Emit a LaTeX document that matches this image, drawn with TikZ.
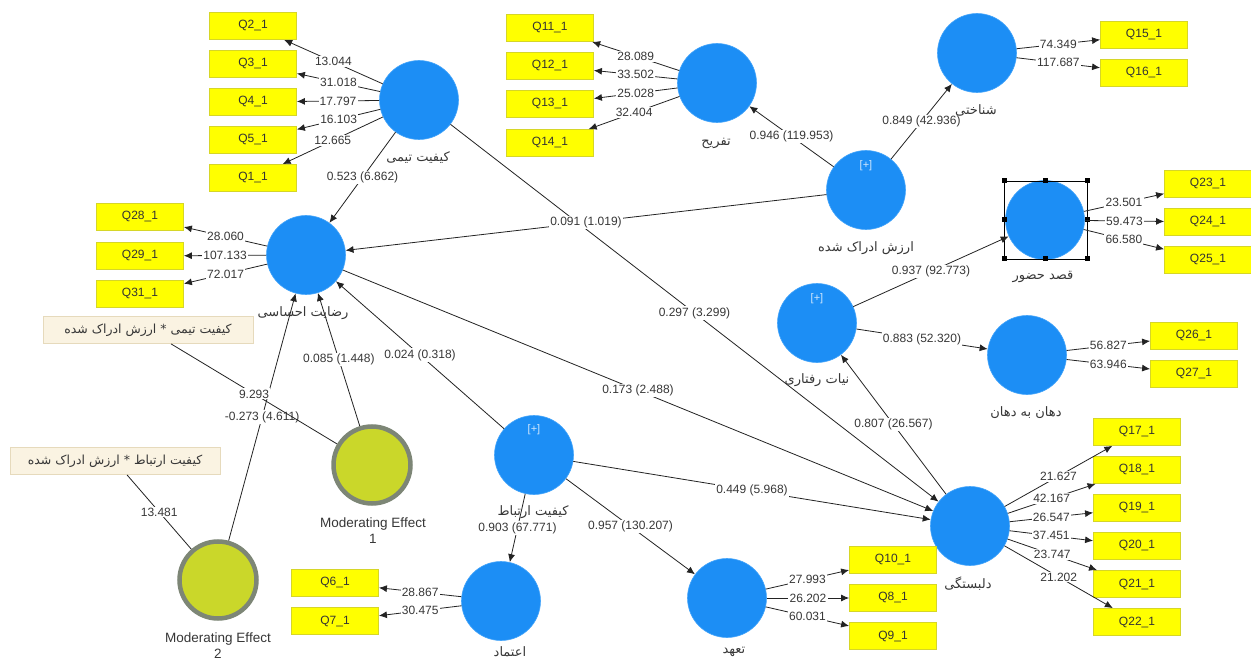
\documentclass[tikz,border=0pt]{standalone}
\usepackage{fontspec}
\setmainfont{Liberation Sans}
\newfontfamily\fa[Script=Arabic]{DejaVu Sans}
\TeXXeTstate=1
\usetikzlibrary{arrows.meta}
\definecolor{lvblue}{RGB}{28,142,245}
\definecolor{lvedge}{RGB}{70,165,250}
\definecolor{indfill}{RGB}{255,255,0}
\definecolor{indedge}{RGB}{214,214,40}
\definecolor{modfill}{RGB}{202,215,42}
\definecolor{modedge}{RGB}{125,134,118}
\definecolor{intfill}{RGB}{250,243,226}
\definecolor{intedge}{RGB}{230,218,188}
\definecolor{linecol}{RGB}{35,35,35}
\definecolor{txtgray}{RGB}{55,55,55}
\newcommand{\fatext}[1]{{\fa\beginR #1\endR}}
\begin{document}
\begin{tikzpicture}[x=1pt,y=-1pt,
  lv/.style={circle, fill=lvblue, draw=lvedge, line width=0.6pt, minimum size=79pt, inner sep=0pt},
  mod/.style={circle, fill=modfill, draw=modedge, line width=4.5pt, minimum size=77pt, inner sep=0pt},
  ind/.style={rectangle, fill=indfill, draw=indedge, line width=0.8pt, minimum width=87pt, minimum height=27pt, inner sep=0pt, font=\fontsize{12}{14}\selectfont, text=black!80},
  inter/.style={rectangle, fill=intfill, draw=intedge, line width=0.8pt, minimum width=210pt, minimum height=27pt, inner sep=0pt, font=\fontsize{12.5}{14}\selectfont, text=txtgray},
  lvname/.style={font=\fontsize{13}{14}\selectfont, text=txtgray},
  plus/.style={font=\fontsize{11}{12}\selectfont, text=white!80!lvblue},
  lbl/.style={fill=white, inner sep=1.2pt, font=\fontsize{12}{13}\selectfont, text=txtgray},
  arr/.style={draw=linecol, line width=0.8pt, -{Latex[length=8pt,width=7pt]}},
  lnk/.style={draw=linecol, line width=0.8pt},
  handle/.style={rectangle, fill=black, minimum size=5pt, inner sep=0pt},
  modname/.style={align=center, font=\fontsize{13.5}{16}\selectfont, text=txtgray}
]
\useasboundingbox (0,0) rectangle (1251,663);
\clip (0,0) rectangle (1251,663);
\fill[white] (0,0) rectangle (1251,663);

% latent variables
\node[lv] (KT) at (419,100) {};
\node[lv] (RE) at (306,255) {};
\node[lv] (TF) at (717,83) {};
\node[lv] (SH) at (977,53) {};
\node[lv] (AR) at (866,190) {};
\node[lv] (QH) at (1045,220) {};
\node[lv] (NR) at (817,323) {};
\node[lv] (DD) at (1027,355) {};
\node[lv] (DL) at (970,526) {};
\node[lv] (KE) at (534,455) {};
\node[lv] (ET) at (501,601) {};
\node[lv] (TH) at (727,598) {};
\node[mod] (ME1) at (372,465) {};
\node[mod] (ME2) at (218,580) {};

\node[plus] (AR+) at (866,166) {[+]};
\node[plus] (NR+) at (817,299) {[+]};
\node[plus] (KE+) at (534,430) {[+]};

% selection box around QH
\draw[black, line width=0.7pt] (1004,181) rectangle (1087,259);
\foreach \hx/\hy in {1004/181,1045.5/181,1087/181,1004/220,1087/220,1004/259,1045.5/259,1087/259}
  \node[handle] at (\hx,\hy) {};

% indicators
\node[ind] (Q2) at (253,26) {Q2\_1};
\node[ind] (Q3) at (253,64) {Q3\_1};
\node[ind] (Q4) at (253,102) {Q4\_1};
\node[ind] (Q5) at (253,140) {Q5\_1};
\node[ind] (Q1) at (253,178) {Q1\_1};
\node[ind] (Q28) at (140,217) {Q28\_1};
\node[ind] (Q29) at (140,256) {Q29\_1};
\node[ind] (Q31) at (140,294) {Q31\_1};
\node[ind] (Q11) at (550,28) {Q11\_1};
\node[ind] (Q12) at (550,66) {Q12\_1};
\node[ind] (Q13) at (550,104) {Q13\_1};
\node[ind] (Q14) at (550,143) {Q14\_1};
\node[ind] (Q15) at (1144,35) {Q15\_1};
\node[ind] (Q16) at (1144,73) {Q16\_1};
\node[ind] (Q23) at (1208,184) {Q23\_1};
\node[ind] (Q24) at (1208,222) {Q24\_1};
\node[ind] (Q25) at (1208,260) {Q25\_1};
\node[ind] (Q26) at (1194,336) {Q26\_1};
\node[ind] (Q27) at (1194,374) {Q27\_1};
\node[ind] (Q17) at (1137,432) {Q17\_1};
\node[ind] (Q18) at (1137,470) {Q18\_1};
\node[ind] (Q19) at (1137,508) {Q19\_1};
\node[ind] (Q20) at (1137,546) {Q20\_1};
\node[ind] (Q21) at (1137,584) {Q21\_1};
\node[ind] (Q22) at (1137,622) {Q22\_1};
\node[ind] (Q10) at (893,560) {Q10\_1};
\node[ind] (Q8) at (893,598) {Q8\_1};
\node[ind] (Q9) at (893,636) {Q9\_1};
\node[ind] (Q6) at (335,583) {Q6\_1};
\node[ind] (Q7) at (335,621) {Q7\_1};

% interaction term boxes
\node[inter] (B1) at (148,330) {\fatext{کیفیت تیمی * ارزش ادراک شده}};
\node[inter] (B2) at (115,461) {\fatext{کیفیت ارتباط * ارزش ادراک شده}};

% structural paths
\draw[arr] (KT) -- node[lbl]{0.297 (3.299)} (DL);
\draw[arr] (KT) -- node[lbl]{0.523 (6.862)} (RE);
\draw[arr] (AR) -- node[lbl]{0.091 (1.019)} (RE);
\draw[arr] (AR) -- node[lbl]{0.946 (119.953)} (TF);
\draw[arr] (AR) -- node[lbl]{0.849 (42.936)} (SH);
\draw[arr] (NR) -- node[lbl]{0.937 (92.773)} (QH);
\draw[arr] (NR) -- node[lbl]{0.883 (52.320)} (DD);
\draw[arr] (DL) -- node[lbl]{0.807 (26.567)} (NR);
\draw[arr] (RE) -- node[lbl]{0.173 (2.488)} (DL);
\draw[arr] (KE) -- node[lbl]{0.449 (5.968)} (DL);
\draw[arr] (KE) -- node[lbl]{0.024 (0.318)} (RE);
\draw[arr] (ME1) -- node[lbl]{0.085 (1.448)} (RE);
\draw[arr] (ME2) -- node[lbl]{-0.273 (4.611)} (RE);
\draw[arr] (KE) -- node[lbl]{0.903 (67.771)} (ET);
\draw[arr] (KE) -- node[lbl]{0.957 (130.207)} (TH);
\draw[lnk] (B1) -- node[lbl]{9.293} (ME1);
\draw[lnk] (B2) -- node[lbl]{13.481} (ME2);

% outer loadings
\foreach \q/\v in {Q2/13.044,Q3/31.018,Q4/17.797,Q5/16.103,Q1/12.665}
  \draw[arr] (KT) -- node[lbl]{\v} (\q);
\foreach \q/\v in {Q28/28.060,Q29/107.133,Q31/72.017}
  \draw[arr] (RE) -- node[lbl]{\v} (\q);
\foreach \q/\v in {Q11/28.089,Q12/33.502,Q13/25.028,Q14/32.404}
  \draw[arr] (TF) -- node[lbl]{\v} (\q);
\foreach \q/\v in {Q15/74.349,Q16/117.687}
  \draw[arr] (SH) -- node[lbl]{\v} (\q);
\foreach \q/\v in {Q23/23.501,Q24/59.473,Q25/66.580}
  \draw[arr] (QH) -- node[lbl]{\v} (\q);
\foreach \q/\v in {Q26/56.827,Q27/63.946}
  \draw[arr] (DD) -- node[lbl]{\v} (\q);
\foreach \q/\v in {Q17/21.627,Q18/42.167,Q19/26.547,Q20/37.451,Q21/23.747,Q22/21.202}
  \draw[arr] (DL) -- node[lbl]{\v} (\q);
\foreach \q/\v in {Q10/27.993,Q8/26.202,Q9/60.031}
  \draw[arr] (TH) -- node[lbl]{\v} (\q);
\foreach \q/\v in {Q6/28.867,Q7/30.475}
  \draw[arr] (ET) -- node[lbl]{\v} (\q);

% construct names
\node[lvname] (nKT) at (418,158) {\fatext{کیفیت تیمی}};
\node[lvname] (nRE) at (303,313) {\fatext{رضایت احساسی}};
\node[lvname] (nTF) at (716,143) {\fatext{تفریح}};
\node[lvname] (nSH) at (976,110) {\fatext{شناختی}};
\node[lvname] (nAR) at (866,248) {\fatext{ارزش ادراک شده}};
\node[lvname] (nQH) at (1043,277) {\fatext{قصد حضور}};
\node[lvname] (nNR) at (817,380) {\fatext{نیات رفتاری}};
\node[lvname] (nDD) at (1026,413) {\fatext{دهان به دهان}};
\node[lvname] (nDL) at (968,584) {\fatext{دلبستگی}};
\node[lvname] (nKE) at (533,512) {\fatext{کیفیت ارتباط}};
\node[lvname] (nET) at (510,652) {\fatext{اعتماد}};
\node[lvname] (nTH) at (734,652) {\fatext{تعهد}};
\node[modname] (nME1) at (373,531) {Moderating Effect\\1};
\node[modname] (nME2) at (218,646) {Moderating Effect\\2};
\end{tikzpicture}
\end{document}
